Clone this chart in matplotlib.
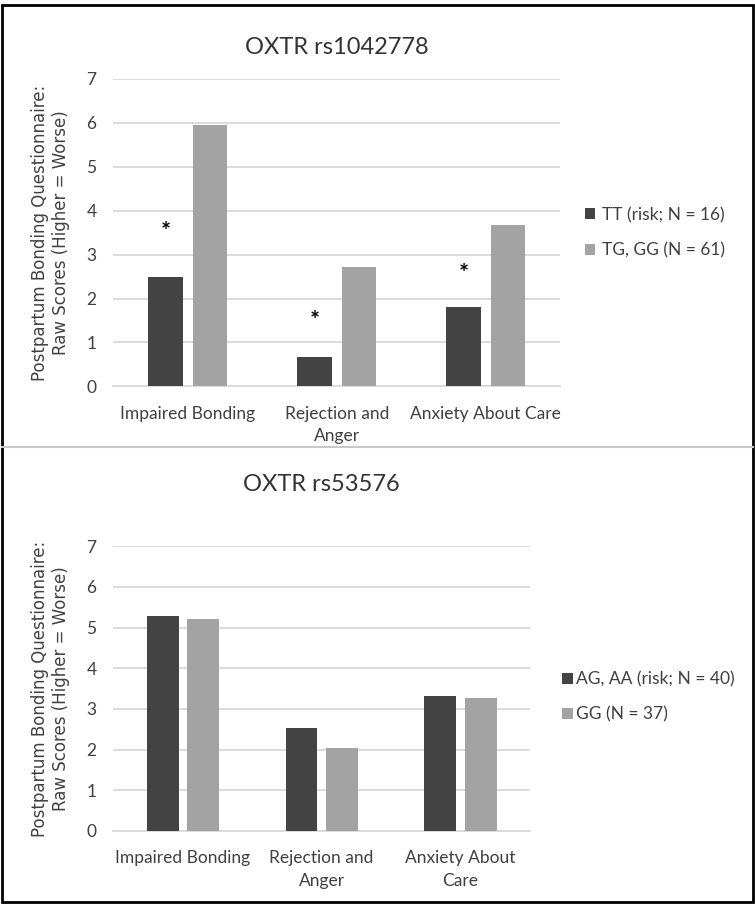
import matplotlib.pyplot as plt
import numpy as np

categories_top = ['Impaired Bonding', 'Rejection and\nAnger', 'Anxiety About Care']
categories_bot = ['Impaired Bonding', 'Rejection and\nAnger', 'Anxiety About\nCare']

tt_risk = [2.5, 0.68, 1.8]
tg_gg = [5.95, 2.72, 3.67]
star_y = [3.5, 1.48, 2.55]

ag_aa_risk = [5.28, 2.52, 3.33]
gg = [5.2, 2.05, 3.28]

yticks = [0, 1, 2, 3, 4, 5, 6, 7]
ylabel = 'Postpartum Bonding Questionnaire:\nRaw Scores (Higher = Worse)'

dark = '#434343'
light = '#a3a3a3'
txt = '#404040'

plt.rcParams['font.family'] = ['Lato', 'DejaVu Sans']

fig = plt.figure(figsize=(7.55, 9.07), dpi=100)


def draw_panel(ax, cats, s1, s2, lab1, lab2, title, width, off, tpad):
    x = np.arange(len(cats))
    ax.bar(x - off, s1, width, color=dark, label=lab1, zorder=3)
    ax.bar(x + off, s2, width, color=light, label=lab2, zorder=3)
    ax.set_xlim(-0.5, len(cats) - 0.5)
    ax.set_ylim(0, 7)
    ax.set_yticks(yticks)
    ax.set_yticklabels([str(t) for t in yticks], fontsize=12.5, color=txt)
    ax.set_xticks(x)
    ax.set_xticklabels(cats, fontsize=12.5, color=txt, linespacing=1.5)
    ax.tick_params(length=0, pad=14, axis='x')
    ax.tick_params(length=0, pad=12, axis='y')
    ax.grid(axis='y', color='#d9d9d9', linewidth=1.3, zorder=0)
    for s in ['top', 'right', 'left']:
        ax.spines[s].set_visible(False)
    ax.spines['bottom'].set_color('#d9d9d9')
    ax.spines['bottom'].set_linewidth(1.3)
    ax.set_ylabel(ylabel, fontsize=12, color=txt, family='DejaVu Sans', labelpad=12)
    ax.set_title(title, fontsize=17, color='#333333', pad=tpad)
    return x


ax1 = fig.add_axes([0.150, 0.574, 0.592, 0.339])
x = draw_panel(ax1, categories_top, tt_risk, tg_gg, 'TT (risk; N = 16)', 'TG, GG (N = 61)',
               'OXTR rs1042778', 0.23, 0.15, 18)
for xi, yi in zip(x, star_y):
    ax1.text(xi - 0.15, yi, '*', ha='center', va='center', fontsize=17, fontweight='bold', color='black')
ax1.legend(loc='center left', bbox_to_anchor=(1.02, 0.5), frameon=False, fontsize=12.5,
           handlelength=0.6, handleheight=0.6, handletextpad=0.4, labelspacing=1.1, labelcolor=txt)

ax2 = fig.add_axes([0.150, 0.0838, 0.552, 0.314])
draw_panel(ax2, categories_bot, ag_aa_risk, gg, 'AG, AA (risk; N = 40)', 'GG (N = 37)',
           'OXTR rs53576', 0.23, 0.145, 40)
ax2.legend(loc='center left', bbox_to_anchor=(1.04, 0.47), frameon=False, fontsize=12.5,
           handlelength=0.6, handleheight=0.6, handletextpad=0.2, labelspacing=1.1, labelcolor=txt)

# divider between panels and outer border
fig.add_artist(plt.Line2D([0.003, 0.997], [0.507, 0.507], color='#c8c8c8', linewidth=1.5))
fig.add_artist(plt.Rectangle((0.003, 0.005), 0.994, 0.99, fill=False, edgecolor='black', linewidth=2))

fig.savefig('out.png', dpi=100)
